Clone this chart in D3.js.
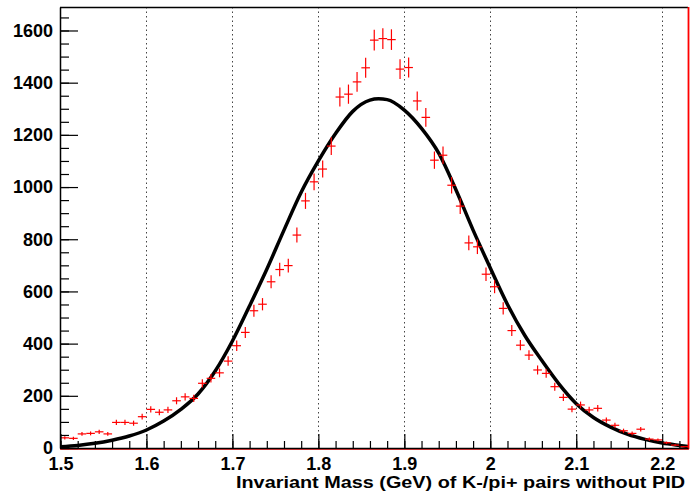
<!DOCTYPE html>
<html>
<head>
<meta charset="utf-8">
<script src="https://cdn.jsdelivr.net/npm/d3@7/dist/d3.min.js"></script>
<style>
body { margin: 0; background: #fff; }
svg text { font-family: "Liberation Sans", Arial, Helvetica, sans-serif; font-weight: bold; fill: #000; }
</style>
</head>
<body>
<svg id="chart" width="691" height="499"></svg>
<script>
// Histogram of K-/pi+ pair masses (bins of 0.01 GeV) plus the fitted curve.

var binWidth = 0.01;
var binCenters = [
    1.505, 1.515, 1.525, 1.535, 1.545, 1.555, 1.565, 1.575, 1.585, 1.595,
    1.605, 1.615, 1.625, 1.635, 1.645, 1.655, 1.665, 1.675, 1.685, 1.695,
    1.705, 1.715, 1.725, 1.735, 1.745, 1.755, 1.765, 1.775, 1.785, 1.795,
    1.805, 1.815, 1.825, 1.835, 1.845, 1.855, 1.865, 1.875, 1.885, 1.895,
    1.905, 1.915, 1.925, 1.935, 1.945, 1.955, 1.965, 1.975, 1.985, 1.995,
    2.005, 2.015, 2.025, 2.035, 2.045, 2.055, 2.065, 2.075, 2.085, 2.095,
    2.105, 2.115, 2.125, 2.135, 2.145, 2.155, 2.165, 2.175, 2.185, 2.195,
    2.205, 2.215, 2.225
];
var counts = [
    39, 37, 54, 56, 62, 54, 98, 98, 95, 120,
    148, 137, 146, 181, 196, 190, 248, 267, 288, 333,
    392, 443, 526, 551, 637, 684, 699, 816, 947, 1020,
    1069, 1157, 1345, 1356, 1403, 1457, 1563, 1569, 1565, 1452,
    1458, 1330, 1267, 1103, 1122, 1007, 927, 786, 771, 666,
    618, 535, 450, 394, 356, 299, 286, 235, 194, 149,
    165, 146, 152, 107, 87, 66, 56, 72, 34, 31,
    20, 11, 5
];

var fitX = [
    1.50, 1.52, 1.54, 1.56, 1.58, 1.60, 1.62, 1.64, 1.66, 1.68,
    1.70, 1.72, 1.74, 1.76, 1.78, 1.80, 1.82, 1.84, 1.86, 1.87,
    1.88, 1.90, 1.92, 1.94, 1.96, 1.98, 2.00, 2.02, 2.04, 2.06,
    2.08, 2.10, 2.12, 2.14, 2.16, 2.18, 2.20, 2.22, 2.23
];
var fitY = [
    5, 10, 18, 30, 46, 69, 103, 148, 207, 295,
    410, 545, 685, 835, 980, 1100, 1205, 1290, 1333, 1338,
    1335, 1295, 1225, 1130, 990, 835, 690, 550, 432, 335,
    245, 170, 117, 80, 52, 33, 19, 10, 6
];

var xTicks = [1.5, 1.6, 1.7, 1.8, 1.9, 2.0, 2.1, 2.2];
var xGrid = [1.6, 1.7, 1.8, 1.9, 2.0, 2.1, 2.2];
var yTicks = [0, 200, 400, 600, 800, 1000, 1200, 1400, 1600];
var xTitle = "Invariant Mass (GeV) of K-/pi+ pairs without PID";

var frame = { left: 60, right: 688, top: 7, bottom: 448 };

var svg = d3.select("#chart");

var x = d3.scaleLinear().domain([1.5, 2.23]).range([frame.left + 0.5, frame.right]);
var y = d3.scaleLinear().domain([0, 1690]).range([frame.bottom, frame.top]);

// Dotted vertical grid at the major x ticks:
svg.append("g").selectAll("line")
    .data(xGrid)
    .enter().append("line")
    .attr("x1", function (d) { return Math.round(x(d)) + 0.5; })
    .attr("x2", function (d) { return Math.round(x(d)) + 0.5; })
    .attr("y1", frame.top)
    .attr("y2", frame.bottom)
    .attr("stroke", "#444")
    .attr("stroke-width", 1)
    .attr("stroke-dasharray", "1.5,3");

// The fit goes under the data points.
var line = d3.line()
    .x(function (d, i) { return x(fitX[i]); })
    .y(function (d) { return y(d); })
    .curve(d3.curveMonotoneX);

svg.append("path")
    .datum(fitY)
    .attr("d", line)
    .attr("fill", "none")
    .attr("stroke", "#000")
    .attr("stroke-width", 3.5)
    .attr("stroke-linejoin", "round");

// Red crosses: bin width across, sqrt(N) up and down.
var pts = svg.append("g")
    .attr("stroke", "#ff0000")
    .attr("stroke-width", 1.2);

pts.selectAll("line.h")
    .data(counts)
    .enter().append("line")
    .attr("class", "h")
    .attr("x1", function (d, i) { return x(binCenters[i] - binWidth / 2); })
    .attr("x2", function (d, i) { return x(binCenters[i] + binWidth / 2); })
    .attr("y1", function (d) { return y(d); })
    .attr("y2", function (d) { return y(d); });

pts.selectAll("line.v")
    .data(counts)
    .enter().append("line")
    .attr("class", "v")
    .attr("x1", function (d, i) { return x(binCenters[i]); })
    .attr("x2", function (d, i) { return x(binCenters[i]); })
    .attr("y1", function (d) { return y(d - Math.sqrt(d)); })
    .attr("y2", function (d) { return y(d + Math.sqrt(d)); });

// Frame: black top, red histogram edge along the bottom and right.
svg.append("line")
    .attr("x1", frame.left).attr("x2", frame.right)
    .attr("y1", frame.top + 0.5).attr("y2", frame.top + 0.5)
    .attr("stroke", "#000").attr("stroke-width", 1.5);
svg.append("line")
    .attr("x1", frame.left).attr("x2", frame.right + 1)
    .attr("y1", frame.bottom + 1).attr("y2", frame.bottom + 1)
    .attr("stroke", "#ff0000").attr("stroke-width", 1.6);
svg.append("line")
    .attr("x1", frame.right + 0.5).attr("x2", frame.right + 0.5)
    .attr("y1", frame.top).attr("y2", frame.bottom + 1)
    .attr("stroke", "#ff0000").attr("stroke-width", 1.8);

// Axes, ticks pointing into the frame like ROOT does.
var yMinor = svg.append("g")
    .attr("transform", "translate(" + frame.left + ",0)")
    .call(d3.axisLeft(y).tickValues(d3.range(0, 1690, 50)).tickSize(-9).tickFormat(""));
var yAxis = svg.append("g")
    .attr("transform", "translate(" + frame.left + ",0)")
    .call(d3.axisLeft(y).tickValues(yTicks).tickSize(-18).tickSizeOuter(0)
        .tickPadding(7).tickFormat(d3.format("d")));

var xMinor = svg.append("g")
    .attr("transform", "translate(0," + frame.bottom + ")")
    .call(d3.axisBottom(x).tickValues(d3.range(1.5, 2.231, 0.02)).tickSize(-7).tickFormat(""));
var xAxis = svg.append("g")
    .attr("transform", "translate(0," + frame.bottom + ")")
    .call(d3.axisBottom(x).tickValues(xTicks).tickSize(-14).tickSizeOuter(0)
        .tickPadding(9).tickFormat(d3.format("~g")));

[yMinor, yAxis, xMinor, xAxis].forEach(function (g) {
    g.selectAll("path.domain").attr("stroke", "#000").attr("stroke-width", 1.5);
    g.selectAll(".tick line").attr("stroke", "#000").attr("stroke-width", 1.2);
    g.selectAll("text").attr("font-size", 18).attr("fill", "#000");
});
yMinor.select("path.domain").remove();
xMinor.select("path.domain").remove();

// Axis title, stretched to the width it has in ROOT's output.
svg.append("text")
    .attr("x", 236)
    .attr("y", 488)
    .attr("font-size", 17)
    .attr("textLength", 449)
    .attr("lengthAdjust", "spacingAndGlyphs")
    .text(xTitle);
</script>
</body>
</html>
